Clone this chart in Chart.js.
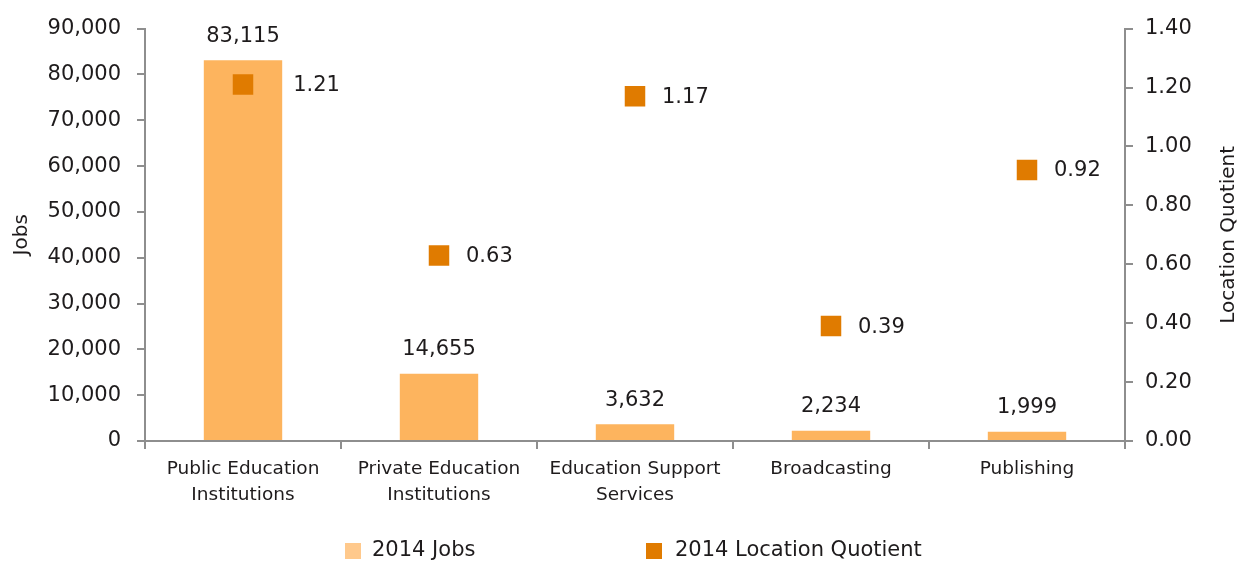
<!DOCTYPE html>
<html>
<head>
<meta charset="utf-8">
<script src="https://cdn.jsdelivr.net/npm/chart.js@4/dist/chart.umd.min.js"></script>
<style>
html,body{margin:0;padding:0;background:#fff;}
#wrap{width:1242px;height:561px;position:relative;}
</style>
</head>
<body>
<div id="wrap"><canvas id="c" width="1242" height="561"></canvas></div>
<script>
const categories = [["Public Education","Institutions"],["Private Education","Institutions"],["Education Support","Services"],"Broadcasting","Publishing"];
const jobs2014 = [83115, 14655, 3632, 2234, 1999];
const lq2014 = [1.21, 0.63, 1.17, 0.39, 0.92];
const seriesNames = ["2014 Jobs", "2014 Location Quotient"];
const leftAxisTitle = "Jobs";
const rightAxisTitle = "Location Quotient";

const FONT = "'DejaVu Sans', sans-serif";
const TEXT = "#1E1B1C";
const AXIS = "#8E8E8E";
const BAR = "#FDB45E";
const BAR_LEG = "#FFC98C";
const SQ = "#E07B00";

const labelPlugin = {
  id: 'labels',
  afterDatasetsDraw(chart) {
    const ctx = chart.ctx;
    ctx.save();
    ctx.fillStyle = TEXT;
    ctx.font = "21px " + FONT;
    const barMeta = chart.getDatasetMeta(0);
    const ptMeta = chart.getDatasetMeta(1);
    ctx.textAlign = 'center';
    ctx.textBaseline = 'middle';
    barMeta.data.forEach((b, i) => {
      ctx.fillText(jobs2014[i].toLocaleString('en-US'), b.x, b.y - 24);
    });
    ctx.textAlign = 'left';
    ctx.textBaseline = 'middle';
    ptMeta.data.forEach((p, i) => {
      const b = barMeta.data[i];
      const barRight = b.y - 20 < p.y ? b.x + b.width / 2 + 11 : 0;
      const x = Math.max(p.x + 27, barRight);
      ctx.fillText(lq2014[i].toFixed(2), x, p.y + 1);
    });
    ctx.restore();
  },
  afterDraw(chart) {
    const ctx = chart.ctx;
    const ca = chart.chartArea;
    ctx.save();
    ctx.fillStyle = TEXT;
    ctx.font = "20px " + FONT;
    ctx.textAlign = 'center';
    ctx.textBaseline = 'middle';
    const cy = (ca.top + ca.bottom) / 2;
    ctx.translate(22, cy);
    ctx.rotate(-Math.PI / 2);
    ctx.fillText(leftAxisTitle, 0, 0);
    ctx.restore();
    ctx.save();
    ctx.fillStyle = TEXT;
    ctx.font = "20px " + FONT;
    ctx.textAlign = 'center';
    ctx.textBaseline = 'middle';
    ctx.translate(1229, cy);
    ctx.rotate(-Math.PI / 2);
    ctx.fillText(rightAxisTitle, 0, 0);
    ctx.restore();
    // legend
    ctx.save();
    ctx.font = "21px " + FONT;
    ctx.textBaseline = 'middle';
    ctx.textAlign = 'left';
    const ly = 551;
    ctx.fillStyle = BAR_LEG;
    ctx.fillRect(345, ly - 8, 16, 16);
    ctx.fillStyle = TEXT;
    ctx.fillText(seriesNames[0], 372, ly);
    ctx.fillStyle = SQ;
    ctx.fillRect(646, ly - 8, 16, 16);
    ctx.fillStyle = TEXT;
    ctx.fillText(seriesNames[1], 675, ly);
    ctx.restore();
  }
};

new Chart(document.getElementById('c'), {
  data: {
    labels: categories,
    datasets: [
      {
        type: 'bar', label: seriesNames[0], data: jobs2014, yAxisID: 'y',
        backgroundColor: BAR, barPercentage: 0.4, categoryPercentage: 1.0, order: 2
      },
      {
        type: 'line', label: seriesNames[1], data: lq2014, yAxisID: 'y1',
        showLine: false, pointStyle: 'rect', pointRadius: 14.5, pointHoverRadius: 14.5,
        pointBackgroundColor: SQ, pointBorderColor: SQ, pointBorderWidth: 0, order: 1
      }
    ]
  },
  options: {
    responsive: false,
    animation: false,
    events: [],
    layout: { padding: { top: 25, left: 0, right: 0, bottom: 0 } },
    plugins: { legend: { display: false }, tooltip: { enabled: false } },
    scales: {
      x: {
        grid: { display: true, drawOnChartArea: false, drawTicks: true, tickLength: 8, color: AXIS, lineWidth: 2, offset: true },
        border: { color: AXIS, width: 2 },
        ticks: { color: TEXT, font: { family: FONT, size: 18.5, lineHeight: 1.4 }, padding: 7, maxRotation: 0, autoSkip: false },
        afterFit(s) { s.height = 120; }
      },
      y: {
        position: 'left', min: 0, max: 90000,
        grid: { display: true, drawOnChartArea: false, drawTicks: true, tickLength: 8, color: AXIS, lineWidth: 2 },
        border: { color: AXIS, width: 2 },
        ticks: { stepSize: 10000, color: TEXT, font: { family: FONT, size: 21 }, padding: 16,
          callback: v => v.toLocaleString('en-US') },
        afterFit(s) { s.width = 145; }
      },
      y1: {
        position: 'right', min: 0, max: 1.4,
        grid: { display: true, drawOnChartArea: false, drawTicks: true, tickLength: 8, color: AXIS, lineWidth: 2 },
        border: { color: AXIS, width: 2 },
        ticks: { stepSize: 0.2, color: TEXT, font: { family: FONT, size: 21 }, padding: 12,
          callback: v => v.toFixed(2) },
        afterFit(s) { s.width = 117; }
      }
    }
  },
  plugins: [labelPlugin]
});
</script>
</body>
</html>
